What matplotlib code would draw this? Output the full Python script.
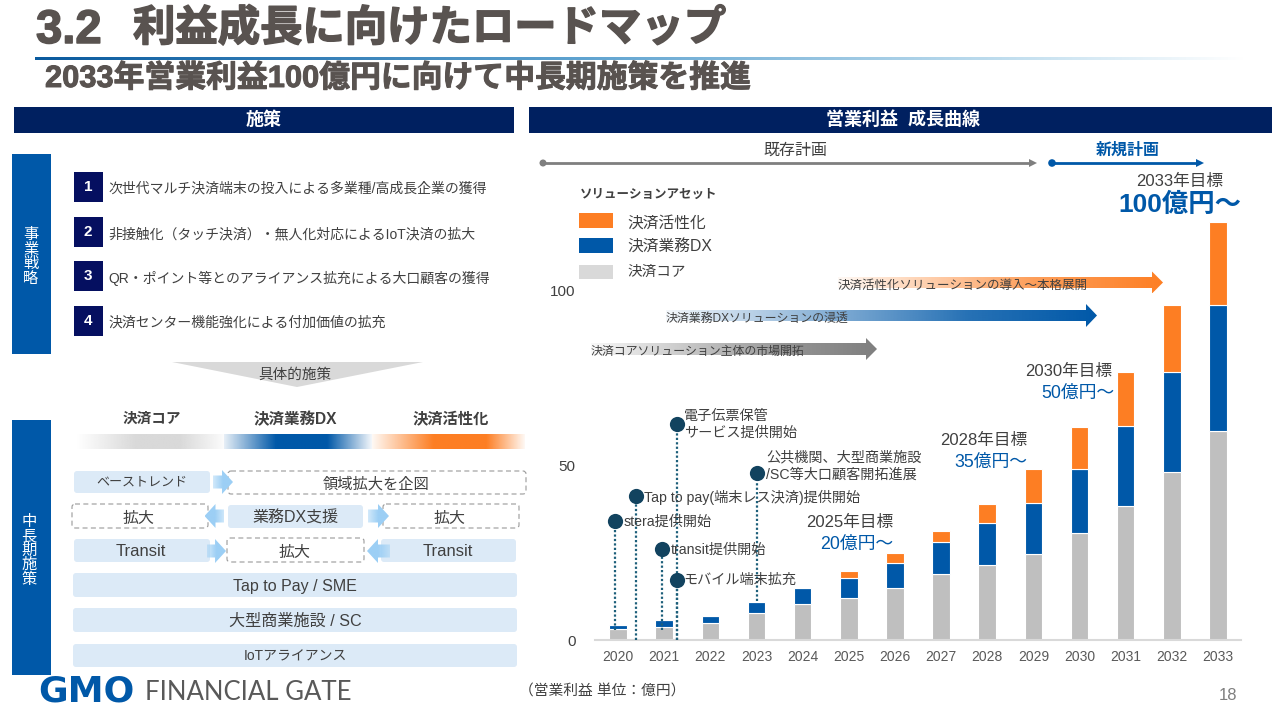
import numpy as np
import matplotlib
matplotlib.use('Agg')
import matplotlib.pyplot as plt
from matplotlib.colors import to_rgb
from matplotlib.patches import Rectangle, Polygon, FancyBboxPatch, Circle
import matplotlib.patheffects as pe

plt.rcParams['font.family'] = ['Liberation Sans', 'Noto Sans CJK JP', 'DejaVu Sans']

# ---------- data ----------
years = [2020, 2021, 2022, 2023, 2024, 2025, 2026, 2027, 2028, 2029, 2030, 2031, 2032, 2033]
core = [3.2, 3.7, 5.0, 7.6, 10.3, 11.9, 14.9, 18.8, 21.5, 24.5, 30.8, 38.4, 48.0, 60.0]
dx = [1.0, 1.9, 2.0, 3.2, 4.6, 6.0, 7.3, 9.3, 11.9, 14.8, 18.3, 22.9, 28.7, 36.1]
activation = [0, 0, 0, 0, 0, 2.0, 2.6, 3.2, 5.7, 9.7, 12.0, 15.4, 19.2, 23.8]
y_ticks = [0, 50, 100]

milestone_labels = ['stera提供開始', 'Tap to pay(端末レス決済)提供開始', '電子伝票保管\nサービス提供開始',
                    'transit提供開始', 'モバイル端末拡充', '公共機関、大型商業施設\n/SC等大口顧客開拓進展']
milestone_x = [2019.94, 2020.38, 2021.27, 2020.96, 2021.27, 2023.01]
milestone_top = [34.1, 41.3, 61.9, 26.1, 17.2, 47.9]
milestone_bottom = [2.9, 0, 0, 2.9, 0, 11.2]

strategies = ['次世代マルチ決済端末の投入による多業種/高成長企業の獲得',
              '非接触化（タッチ決済）・無人化対応によるIoT決済の拡大',
              'QR・ポイント等とのアライアンス拡充による大口顧客の獲得',
              '決済センター機能強化による付加価値の拡充']

NAVY = '#002060'
BLUE = '#0058A8'
ORANGE = '#FD7E23'
GRAY = '#BFBFBF'
LGRAY = '#D9D9D9'
TXT = '#404040'
TITLE = '#595350'
PALE = '#DCEAF7'
ARROW = '#9CCFF5'
DOT = '#12435F'

fig = plt.figure(figsize=(12.8, 7.2), dpi=100, facecolor='white')

# ---------- chart axes (0 at y=640px, 100 at y=291px; 2020 at x=618, 2033 at x=1218) ----------
px_per_year = (1218 - 618) / 13
px_per_unit = (640 - 291) / 100
L, R, B, T = 595, 1241, 640, 200
ch = fig.add_axes([L / 1280, 1 - B / 720, (R - L) / 1280, (B - T) / 720], facecolor='none')
ch.set_xlim(2020 - (618 - L) / px_per_year, 2033 + (R - 1218) / px_per_year)
ch.set_ylim(0, (B - T) / px_per_unit)
w = 0.38
core_a, dx_a, act_a = np.array(core), np.array(dx), np.array(activation)
ch.bar(years, core_a, w, color=GRAY, edgecolor='white', linewidth=0.8, zorder=2)
ch.bar(years, dx_a, w, bottom=core_a, color=BLUE, edgecolor='white', linewidth=0.8, zorder=2)
ch.bar(years, act_a, w, bottom=core_a + dx_a, color=ORANGE, edgecolor='white', linewidth=0.8, zorder=2)
for s in ['top', 'left', 'right']:
    ch.spines[s].set_visible(False)
ch.spines['bottom'].set_color(LGRAY)
ch.spines['bottom'].set_linewidth(1.5)
ch.set_xticks(years)
ch.set_xticklabels([str(y) for y in years], fontsize=10, color='#595959')
ch.set_yticks(y_ticks)
ch.set_yticklabels([str(y) for y in y_ticks], fontsize=11, color=TXT)
ch.tick_params(axis='both', length=0)
ch.tick_params(axis='x', pad=7)
ch.tick_params(axis='y', pad=14)
ch.vlines(milestone_x, milestone_bottom, milestone_top, colors='#1D5F7A', linestyles=(0, (1, 1)), linewidth=1.6, zorder=3)
ch.scatter(milestone_x, milestone_top, s=120, color=DOT, zorder=4, linewidths=0, clip_on=False)

# ---------- pixel overlay ----------
ax = fig.add_axes([0, 0, 1, 1], facecolor='none')
ax.set_xlim(0, 1280)
ax.set_ylim(720, 0)
ax.axis('off')
ax.set_autoscale_on(False)


def grad(x0, x1, y0, y1, stops, clip=None, z=1):
    """stops: list of (pos, colour, alpha)"""
    xs = np.linspace(0, 1, 256)
    pos = [s[0] for s in stops]
    rgb = np.array([to_rgb(s[1]) for s in stops])
    alpha = [s[2] for s in stops]
    arr = np.zeros((1, 256, 4))
    for i in range(3):
        arr[0, :, i] = np.interp(xs, pos, rgb[:, i])
    arr[0, :, 3] = np.interp(xs, pos, alpha)
    im = ax.imshow(arr, extent=(x0, x1, y1, y0), aspect='auto', interpolation='bilinear', zorder=z)
    if clip is not None:
        im.set_clip_path(Polygon(clip, closed=True, transform=ax.transData))
    return im


def t(x, y, s, size=10, color=TXT, ha='left', va='center', weight='normal', **kw):
    return ax.text(x, y, s, fontsize=size, color=color, ha=ha, va=va, fontweight=weight, **kw)


def rect(x0, y0, x1, y1, color, z=1):
    ax.add_patch(Rectangle((x0, y0), x1 - x0, y1 - y0, facecolor=color, edgecolor='none', zorder=z))


def rbox(x0, y0, x1, y1, face=PALE, edge='none', ls='-', lw=1.0, z=2):
    ax.add_patch(FancyBboxPatch((x0, y0), x1 - x0, y1 - y0, boxstyle='round,pad=0,rounding_size=3',
                                facecolor=face, edgecolor=edge, linestyle=ls, linewidth=lw, zorder=z))


def dashed(x0, y0, x1, y1):
    rbox(x0, y0, x1, y1, face='white', edge='#9A9A9A', ls=(0, (4.5, 3)), lw=0.8, z=2)


def block_arrow(x0, x1, yc, h_shaft=11, h_head=22, head=11, right=True, stops=None, z=3):
    tip = x1 if right else x0
    base = x1 - head if right else x0 + head
    tail = x0 if right else x1
    poly = [(tail, yc - h_shaft / 2), (base, yc - h_shaft / 2), (base, yc - h_head / 2), (tip, yc),
            (base, yc + h_head / 2), (base, yc + h_shaft / 2), (tail, yc + h_shaft / 2)]
    grad(x0, x1, yc - h_head / 2, yc + h_head / 2, stops, clip=poly, z=z)


# titles
heavy = [pe.withStroke(linewidth=1.1, foreground=TITLE)]
t(36, 31, '3.2', 34, TITLE, weight='bold', path_effects=heavy)
t(133, 29, '利益成長に向けたロードマップ', 30.5, TITLE, weight='bold', path_effects=heavy)
grad(35, 1245, 57, 60, [(0, '#0A5A9E', 1), (0.45, '#5FA3D0', 1), (0.8, '#BFDDEE', 1), (1, '#FFFFFF', 1)])
t(45, 79, '2033年営業利益100億円に向けて中長期施策を推進', 22.2, TITLE, weight='bold',
  path_effects=[pe.withStroke(linewidth=0.7, foreground=TITLE)])

# headers
rect(13.5, 107, 513.5, 133, NAVY)
rect(528.5, 107, 1272, 133, NAVY)
t(263.5, 120, '施策', 13, 'white', ha='center', weight='bold')
t(903, 120, '営業利益  成長曲線', 13, 'white', ha='center', weight='bold')

# left column
rect(12, 154, 50.5, 354, BLUE)
t(31, 257, '事\n業\n戦\n略', 11, 'white', ha='center', linespacing=1.03)
for i, (y0, s) in enumerate(zip([172, 217, 261, 306], strategies)):
    rect(73.5, y0, 103, y0 + 30, '#050F60')
    t(88, y0 + 15, str(i + 1), 11, 'white', ha='center', weight='bold')
    t(108, y0 + 17, s, 10, TXT)

ax.add_patch(Polygon([(172, 362), (423, 362), (297, 387)], closed=True, facecolor=LGRAY, edgecolor='none', zorder=1))
t(295, 375, '具体的施策', 10.5, TXT, ha='center', zorder=3)

t(152, 419, '決済コア', 10.5, TXT, ha='center', weight='bold')
t(295, 419, '決済業務DX', 11.2, TXT, ha='center', weight='bold')
t(451, 419, '決済活性化', 11, TXT, ha='center', weight='bold')
grad(77, 224, 434, 449, [(0, LGRAY, 0), (0.4, LGRAY, 1), (0.7, LGRAY, 1), (1, LGRAY, 0.1)])
grad(224, 372, 434, 449, [(0, BLUE, 0.1), (0.35, BLUE, 1), (0.7, BLUE, 1), (1, BLUE, 0.05)])
grad(372, 525, 434, 449, [(0, ORANGE, 0.05), (0.4, ORANGE, 1), (0.75, ORANGE, 1), (1, ORANGE, 0.05)])

rect(11.5, 420, 50.5, 675, BLUE)
t(29, 551, '中\n長\n期\n施\n策', 11, 'white', ha='center', linespacing=1.03)

rbox(74, 471, 210, 493)
dashed(228, 471, 526, 494)
dashed(72, 504, 208, 528)
rbox(228, 505, 363, 528)
dashed(383, 504, 519, 528)
rbox(74, 539, 210, 562)
dashed(227, 538, 364, 562)
rbox(381, 539, 516, 562)
rbox(73, 573, 517, 597)
rbox(73, 608, 517, 632)
rbox(73, 644, 517, 667)

fade_r = [(0, ARROW, 0.45), (0.5, ARROW, 1), (1, ARROW, 1)]
fade_l = [(0, ARROW, 1), (0.5, ARROW, 1), (1, ARROW, 0.45)]
block_arrow(213, 233, 482, 13, 24, stops=fade_r)
block_arrow(204.5, 224, 516, 13, 24, right=False, stops=fade_l)
block_arrow(368, 389, 516, 13, 24, stops=fade_r)
block_arrow(207, 226, 551, 13, 24, stops=fade_r)
block_arrow(367, 390, 551, 13, 24, right=False, stops=fade_l)

t(142, 483, 'ベーストレンド', 9.4, TXT, ha='center', zorder=4)
t(376, 484, '領域拡大を企図', 11, TXT, ha='center', zorder=4)
t(139, 518, '拡大', 11.5, TXT, ha='center', zorder=4)
t(295, 518, '業務DX支援', 11.5, TXT, ha='center', zorder=4)
t(450, 518, '拡大', 11.5, TXT, ha='center', zorder=4)
t(141, 552, 'Transit', 12, TXT, ha='center', zorder=4)
t(295, 552, '拡大', 11.5, TXT, ha='center', zorder=4)
t(448, 552, 'Transit', 12, TXT, ha='center', zorder=4)
t(295, 586, 'Tap to Pay / SME', 11.5, TXT, ha='center', zorder=4)
t(295, 621, '大型商業施設 / SC', 11.6, TXT, ha='center', zorder=4)
t(295, 656, 'IoTアライアンス', 10, TXT, ha='center', zorder=4)

# logo and footer
t(38, 692, 'GMO', 26, '#0058A8', weight='bold', family='DejaVu Sans')
t(145, 692, 'FINANCIAL GATE', 18.5, '#595959', family='Lato')
t(519, 692, '（営業利益 単位：億円）', 10.6, TXT)
t(1228, 695, '18', 12, '#7F7F7F', ha='center')

# plan arrows
gray_l = '#7F7F7F'
ax.plot([543, 1030], [163, 163], color=gray_l, lw=2, zorder=2)
ax.add_patch(Circle((543, 163), 3.5, facecolor=gray_l, edgecolor='none'))
ax.add_patch(Polygon([(1029, 159), (1037, 163), (1029, 167)], closed=True, facecolor=gray_l, edgecolor='none'))
ax.plot([1052, 1197], [163, 163], color=BLUE, lw=2, zorder=2)
ax.add_patch(Circle((1052, 163), 3.8, facecolor=BLUE, edgecolor='none'))
ax.add_patch(Polygon([(1196, 159), (1204, 163), (1196, 167)], closed=True, facecolor=BLUE, edgecolor='none'))
t(795, 150, '既存計画', 11.5, TXT, ha='center')
t(1128, 150, '新規計画', 11.5, BLUE, ha='center', weight='bold')

# legend
t(580, 195, 'ソリューションアセット', 9, TXT, weight='bold')
rect(579, 213, 612.5, 228, ORANGE)
rect(579, 238, 612.5, 253, BLUE)
rect(579, 265, 612.5, 279, LGRAY)
t(627, 223, '決済活性化', 11.3, TXT)
t(627, 247, '決済業務DX', 11.3, TXT)
t(627, 272, '決済コア', 10.5, TXT)

# gradient arrows
block_arrow(838, 1163, 282.5, 11, 22, stops=[(0, ORANGE, 0.05), (0.6, ORANGE, 0.75), (1, ORANGE, 1)])
block_arrow(666, 1097, 315.5, 11, 23, stops=[(0, BLUE, 0.05), (0.7, BLUE, 0.85), (1, BLUE, 1)])
block_arrow(591, 877, 349, 12, 22, stops=[(0, gray_l, 0.05), (0.7, gray_l, 0.85), (1, gray_l, 1)])
t(838, 286, '決済活性化ソリューションの導入～本格展開', 9, TXT, zorder=5)
t(666, 319, '決済業務DXソリューションの浸透', 8.6, TXT, zorder=5)
t(591, 352, '決済コアソリューション主体の市場開拓', 8.6, TXT, zorder=5)

# milestone labels
label_pos = [(624, 522), (644, 497), (684, 424), (671, 550), (683, 580), (766, 466)]
for (x, y), s in zip(label_pos, milestone_labels):
    t(x, y, s, 10.2, TXT, linespacing=1.25, zorder=5)

# targets
t(893, 522, '2025年目標', 12, TXT, ha='right')
t(893, 544, '20億円〜', 12.8, BLUE, ha='right')
t(1027, 440, '2028年目標', 12, TXT, ha='right')
t(1027, 462, '35億円〜', 12.8, BLUE, ha='right')
t(1112, 371, '2030年目標', 12, TXT, ha='right')
t(1114, 393, '50億円〜', 12.8, BLUE, ha='right')
t(1180, 181, '2033年目標', 12, TXT, ha='center')
t(1180, 205, '100億円〜', 19, BLUE, ha='center', weight='bold')

fig.savefig('out.png', dpi=100)
